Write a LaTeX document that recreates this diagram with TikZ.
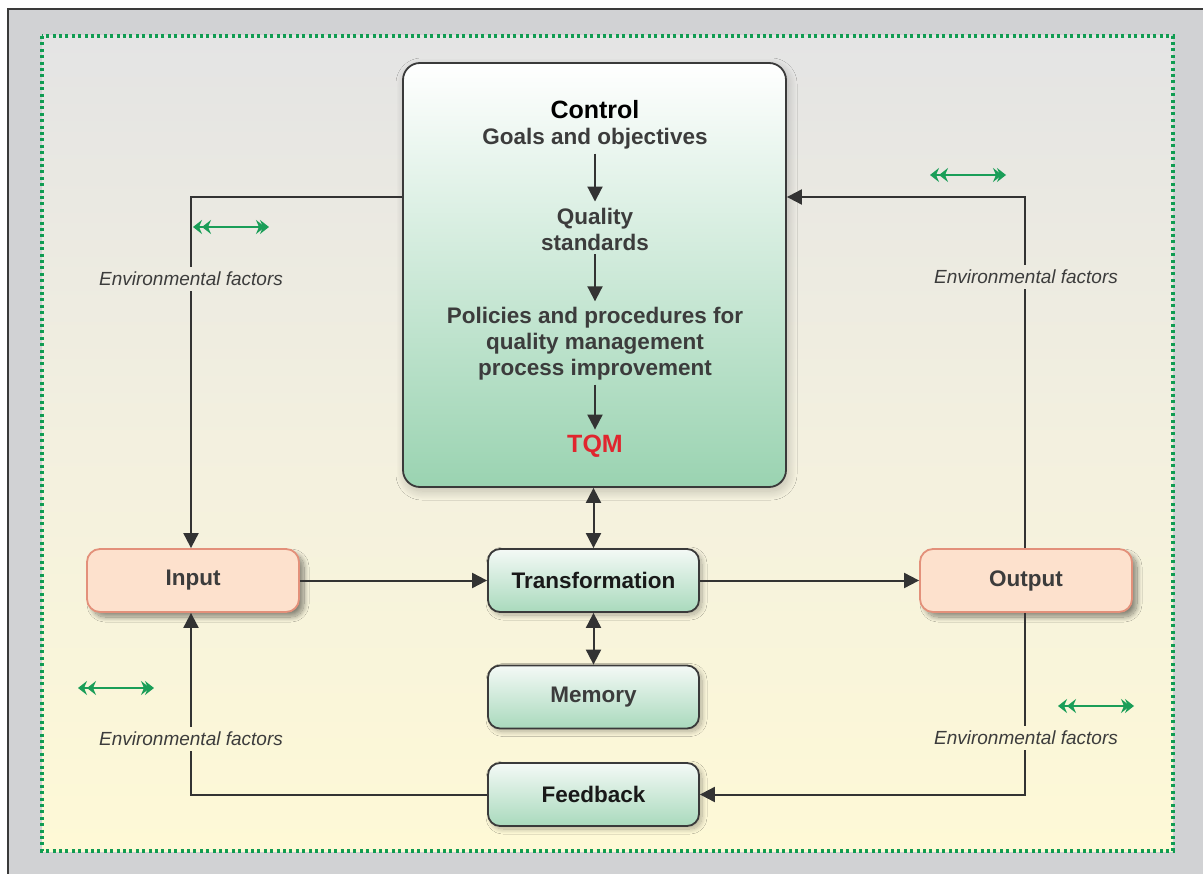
\documentclass[tikz,border=0pt]{standalone}
\usepackage{fontspec}
\setmainfont{Liberation Sans}
\usetikzlibrary{arrows.meta,shadows.blur}
\definecolor{framegray}{HTML}{D1D2D4}
\definecolor{frameline}{HTML}{3A3A3A}
\definecolor{dotgreen}{HTML}{109C52}
\definecolor{bgtop}{HTML}{E4E4E4}
\definecolor{bgmid}{HTML}{F3F0DF}
\definecolor{bgbot}{HTML}{FEF9D6}
\definecolor{mint}{HTML}{9AD3B1}
\definecolor{mintlight}{HTML}{F4F9F6}
\definecolor{peach}{HTML}{FDE1CD}
\definecolor{peachline}{HTML}{E3907A}
\definecolor{ink}{HTML}{333333}
\definecolor{txt}{HTML}{3C3C3C}
\definecolor{tqmred}{HTML}{E0262E}
\definecolor{envgreen}{HTML}{1A9E58}
\tikzset{
  boxtext/.style={font=\bfseries\fontsize{22.5}{26}\selectfont, text=txt, align=center},
  greenbox/.style={rounded corners=12pt, draw=frameline, line width=1.8pt,
    top color=mintlight, bottom color=mint!85, minimum width=211pt, minimum height=63pt,
    inner sep=0pt, boxtext,
    blur shadow={shadow xshift=3pt, shadow yshift=-3pt, shadow blur radius=5pt,
      shadow blur steps=16, shadow opacity=30}},
  peachbox/.style={rounded corners=13pt, draw=peachline, line width=1.8pt, fill=peach,
    minimum width=212pt, minimum height=63pt, inner sep=0pt, boxtext,
    blur shadow={shadow xshift=5pt, shadow yshift=-5pt, shadow blur radius=5pt,
      shadow blur steps=16, shadow opacity=45}},
  ctltext/.style={boxtext, inner sep=3pt},
  envlabel/.style={font=\itshape\fontsize{19}{22}\selectfont, text=txt, inner sep=5pt},
  conn/.style={draw=ink, line width=2pt},
  arr/.style={conn, -{Triangle[length=15pt,width=15pt]}},
  darr/.style={conn, {Triangle[length=15pt,width=15pt]}-{Triangle[length=15pt,width=15pt]}},
  envarrow/.style={draw=envgreen, line width=1.8pt,
    {Stealth[length=9pt,width=14pt,inset=3pt,sep=-5pt]Stealth[length=9pt,width=14pt,inset=3pt]}-{Stealth[length=9pt,width=14pt,inset=3pt,sep=-5pt]Stealth[length=9pt,width=14pt,inset=3pt]}},
}
\begin{document}
\begin{tikzpicture}[x=1pt,y=-1pt]
\useasboundingbox (0,0) rectangle (1203,874);
% frame and background
\fill[white] (0,0) rectangle (1203,874);
\draw[frameline, line width=2pt, fill=framegray] (8,9) rectangle (1215,890);
\path[top color=bgtop, bottom color=bgbot, middle color=bgmid] (42,36) rectangle (1173,851);
\draw[dotgreen, line width=3.4pt, dash pattern=on 3pt off 3.4pt] (42,36) rectangle (1173,851);

% control block
\node[rounded corners=17pt, draw=frameline, line width=1.8pt, top color=white, bottom color=mint,
  minimum width=383pt, minimum height=424pt, inner sep=0pt,
  blur shadow={shadow xshift=2pt, shadow yshift=-4pt, shadow blur radius=9pt,
    shadow blur steps=30, shadow opacity=22}]
  (ctl) at (594.5,275) {};
\node[ctltext, text=black, font=\bfseries\fontsize{25}{28}\selectfont] (ctitle) at (595,110) {Control};
\node[ctltext] (goals) at (595,139) {Goals and objectives};
\node[ctltext] (qual) at (595,229) {Quality\\standards};
\node[ctltext] (pol) at (595,344) {Policies and procedures for\\quality management\\process improvement};
\node[ctltext, text=tqmred, font=\bfseries\fontsize{25}{28}\selectfont] (tqm) at (595,446) {TQM};
\draw[arr, shorten <=1pt, shorten >=3pt] (goals) -- (qual);
\draw[arr, shorten <=1pt, shorten >=3pt] (qual) -- (pol);
\draw[arr, shorten <=1pt, shorten >=2pt] (pol) -- (tqm);

% process blocks
\node[peachbox] (input) at (193,580.5) {Input};
\node[greenbox, text=black!90] (trans) at (593.5,580.5) {Transformation};
\node[peachbox] (output) at (1026,580.5) {Output};
\node[greenbox] (memory) at (593.5,697) {Memory};
\node[greenbox, text=black!90] (feedback) at (593.5,794.5) {Feedback};

% environmental factor labels
\node[envlabel] (envTL) at (191,279) {Environmental factors};
\node[envlabel] (envTR) at (1026,277) {Environmental factors};
\node[envlabel] (envBL) at (191,739) {Environmental factors};
\node[envlabel] (envBR) at (1026,738) {Environmental factors};

% corner points of the loops
\coordinate (tl) at (191,197);
\coordinate (tr) at (1025,197);
\coordinate (bl) at (191,794.5);
\coordinate (br) at (1025,794.5);

% connectors
\draw[conn] (ctl.west |- tl) -- (tl) -- (envTL.north -| tl);
\draw[arr] (envTL.south -| tl) -- (input.north -| tl);
\draw[conn] (output.north -| tr) -- (envTR.south -| tr);
\draw[arr] (envTR.north -| tr) -- (tr) -- (ctl.east |- tr);
\draw[conn] (output.south -| br) -- (envBR.north -| br);
\draw[arr] (envBR.south -| br) -- (br) -- (feedback.east);
\draw[conn] (feedback.west) -- (bl) -- (envBL.south -| bl);
\draw[arr] (envBL.north -| bl) -- (input.south -| bl);
\draw[arr] (input) -- (trans);
\draw[arr] (trans) -- (output);
\draw[darr] (trans.north) -- (trans.north |- ctl.south);
\draw[darr] (trans) -- (memory);

% environmental exchange markers
\coordinate (gTLa) at (198,227); \coordinate (gTLb) at (269,227);
\coordinate (gTRa) at (935,175); \coordinate (gTRb) at (1006,175);
\coordinate (gBLa) at (83,688);  \coordinate (gBLb) at (154,688);
\coordinate (gBRa) at (1063,706); \coordinate (gBRb) at (1134,706);
\draw[envarrow] (gTLa) -- (gTLb);
\draw[envarrow] (gTRa) -- (gTRb);
\draw[envarrow] (gBLa) -- (gBLb);
\draw[envarrow] (gBRa) -- (gBRb);
\end{tikzpicture}
\end{document}
